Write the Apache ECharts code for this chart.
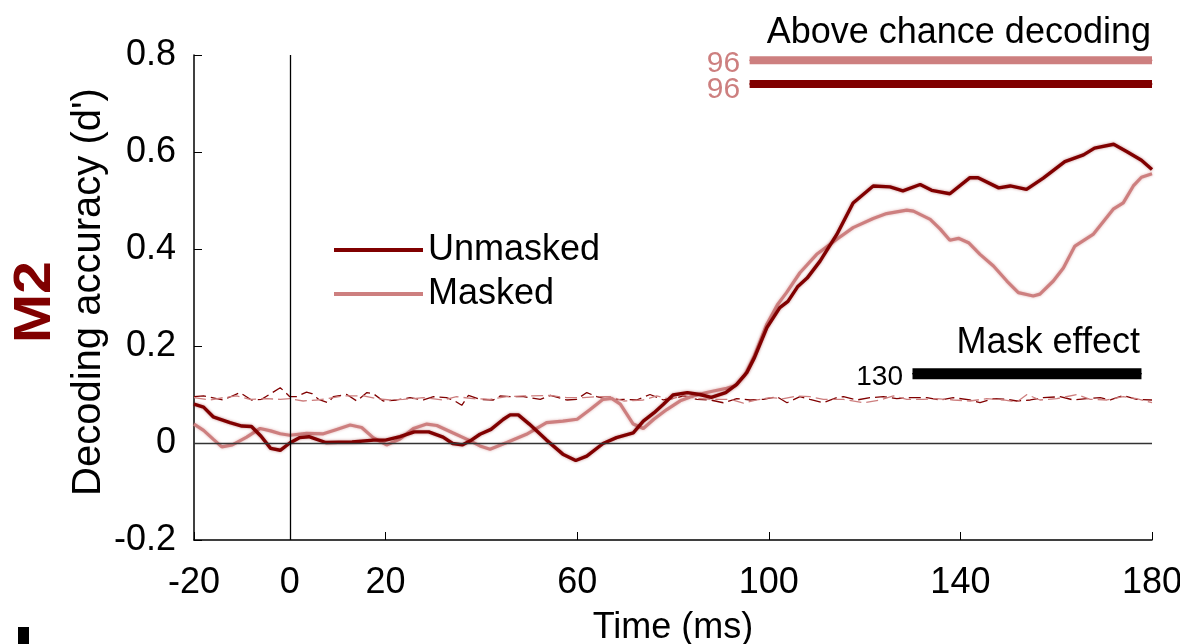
<!DOCTYPE html>
<html>
<head>
<meta charset="utf-8">
<script src="https://cdn.jsdelivr.net/npm/echarts@6/dist/echarts.min.js"></script>
<style>
  html, body { margin: 0; padding: 0; background: #fff; overflow: hidden; }
  #main { width: 1180px; height: 644px; }
</style>
</head>
<body>
<div id="main"></div>
<script>
// decoding accuracy, unmasked
var unmaskedTime = [-20,-18,-16,-12.5,-10,-8,-6,-4,-2,0,2,4,7.5,13,17.5,20,23,26,29,32,34,36,37.6,39.7,42,44.6,46,47.7,50,53.6,57,59.7,62,65.4,68.2,71.7,73.8,76,78,80,83,85.6,88,91,93.3,95.4,97,99.6,102.3,104,106,108,110.7,114.2,117.6,121.8,125.3,128,131.6,134,137.8,142,143.7,148,150.4,153.8,157.3,161.8,165.7,168,172,174.7,177.8,180];
var unmaskedVal = [0.080,0.074,0.054,0.042,0.035,0.034,0.014,-0.011,-0.015,0.000,0.011,0.013,0.001,0.002,0.006,0.006,0.013,0.023,0.023,0.012,-0.001,-0.004,0.004,0.018,0.028,0.049,0.058,0.058,0.039,0.006,-0.023,-0.036,-0.027,-0.001,0.011,0.021,0.045,0.062,0.080,0.099,0.104,0.100,0.094,0.104,0.121,0.145,0.176,0.238,0.279,0.292,0.322,0.340,0.375,0.430,0.495,0.530,0.528,0.520,0.533,0.521,0.514,0.547,0.547,0.526,0.530,0.523,0.546,0.580,0.594,0.608,0.616,0.601,0.583,0.564];

// decoding accuracy, masked
var maskedTime = [-20,-18,-16,-14.2,-12,-9,-6.2,-4,-2,0,3.5,7,9.8,12.6,15,17.4,20.2,23,25.8,28.6,30.7,34,36.9,39.7,41.8,45.3,49.4,53.6,57,60,62.7,65.4,67.2,69,71.7,73.8,76,78.7,81.5,84.2,87,91.2,93,95,97,99.6,101.8,103.7,106.5,110,114.2,117.6,121.8,124.6,128.8,130.2,133.7,135.8,137.8,139.6,141.7,144.1,146.9,149.7,152.1,155.2,156.6,159.4,161.5,163.9,167.7,170.2,171.9,174,176.1,177.8,180];
var maskedVal = [0.039,0.026,0.008,-0.008,-0.004,0.012,0.030,0.025,0.019,0.016,0.020,0.019,0.028,0.037,0.032,0.011,-0.004,0.008,0.030,0.039,0.036,0.021,0.008,-0.006,-0.013,0.001,0.018,0.042,0.045,0.049,0.069,0.090,0.092,0.080,0.039,0.030,0.049,0.069,0.087,0.097,0.104,0.113,0.118,0.140,0.180,0.245,0.285,0.310,0.351,0.389,0.420,0.444,0.463,0.473,0.480,0.478,0.461,0.441,0.418,0.422,0.413,0.389,0.365,0.334,0.310,0.303,0.307,0.334,0.361,0.406,0.430,0.461,0.482,0.495,0.530,0.548,0.555];

// chance level (shuffled labels)
var chanceDarkTime = [-20,-18,-13.9,-10.4,-8,-5.9,-2,-1,0,1.4,3.5,4.6,6,8,9.1,11.9,14,16.1,17.4,19.5,22.3,25.1,27.9,30,32.7,34.1,35.9,37.3,39.7,42.5,43.9,46,48.8,52.3,54.4,57.8,59.9,62,64.1,66.9,69.7,72.4,75.2,78,80.8,82.2,85,87.8,90.5,93.3,96.1,98.9,101.7,103.8,106.5,108.6,111.4,114.2,115.6,118.4,121.2,123.9,126.7,129.5,133,135.8,138.5,142,144.1,146.9,149.7,151.8,154.6,157.3,160.8,163.6,166.4,169.2,171.3,174,176.8,180];
var chanceDarkVal = [0.0955,0.097,0.0887,0.104,0.0887,0.090,0.114,0.105,0.0955,0.0955,0.105,0.102,0.090,0.083,0.0955,0.100,0.0866,0.104,0.102,0.0866,0.0887,0.0935,0.0887,0.0955,0.0935,0.0887,0.0777,0.098,0.090,0.0887,0.097,0.0955,0.0955,0.090,0.098,0.0887,0.090,0.104,0.0955,0.0887,0.090,0.0887,0.100,0.0887,0.0935,0.097,0.090,0.0887,0.083,0.0914,0.0887,0.090,0.0955,0.083,0.0955,0.090,0.083,0.0935,0.0955,0.0887,0.0935,0.0955,0.0914,0.0935,0.0935,0.0887,0.0935,0.0887,0.083,0.0914,0.090,0.0866,0.0887,0.0935,0.0955,0.0887,0.0914,0.0935,0.0887,0.098,0.090,0.0887];
var chanceLightTime = [-20,-16.7,-13.9,-11.1,-8.3,-4.8,-2,0,2.8,5.6,7.7,11.2,15.4,18.1,20.9,23.7,27.9,32,34.8,38.3,41.8,45.3,48.8,54.4,57.8,61.3,64.1,66.9,69.7,73.8,76.6,79.4,82.2,85,89.1,91.9,94.7,97.5,100.3,103.1,105.8,108.6,111.4,115.6,119.8,123.2,126,128.8,132.3,135.1,138.5,142,145.5,149,151.8,153.9,156.6,160.1,164.3,167.1,170.6,174,176.8,180];
var chanceLightVal = [0.0935,0.0887,0.0935,0.097,0.090,0.0914,0.090,0.0914,0.0866,0.0887,0.0914,0.097,0.097,0.0914,0.0887,0.090,0.0935,0.0887,0.0955,0.0914,0.090,0.0955,0.097,0.098,0.0935,0.0935,0.0955,0.0955,0.0866,0.0887,0.097,0.090,0.098,0.0914,0.090,0.090,0.082,0.0887,0.0935,0.0914,0.097,0.0955,0.090,0.090,0.083,0.0887,0.097,0.090,0.090,0.0914,0.0887,0.0866,0.0914,0.0887,0.0846,0.100,0.0887,0.0914,0.100,0.090,0.0887,0.0955,0.0914,0.083];

// significance bars: [start, end] in ms, plus the height they are drawn at
var aboveMaskedSpan = [96, 180];
var aboveUnmaskedSpan = [96, 180];
var maskEffectSpan = [130, 177.8];
var aboveMaskedLevel = 0.789;
var aboveUnmaskedLevel = 0.740;
var maskEffectLevel = 0.143;

var xTicks = [-20, 0, 20, 60, 100, 140, 180];

var DARK = '#800000';
var LIGHT = '#CD7F7F';
var FONT = '"Liberation Sans", Arial, Helvetica, sans-serif';

function zip(t, v) {
    var out = [];
    for (var i = 0; i < t.length; i++) out.push([t[i], v[i]]);
    return out;
}

// bar with a label at its start point
function spanData(span, level, labelColor, labelSize, offset) {
    return [{
        value: [span[0], level],
        label: {
            show: true,
            position: 'left',
            distance: 9,
            offset: offset,
            formatter: String(span[0]),
            color: labelColor,
            fontSize: labelSize,
            fontFamily: FONT
        }
    }, [span[1], level]];
}

var chart = echarts.init(document.getElementById('main'), null, { renderer: 'canvas' });

var option = {
    animation: false,
    backgroundColor: '#fff',
    grid: { left: 194, right: 28, top: 55, bottom: 104, containLabel: false, outerBoundsMode: 'none' },
    legend: {
        data: ['Unmasked', 'Masked'],
        orient: 'vertical',
        left: 329,
        top: 227,
        icon: 'rect',
        itemWidth: 89,
        itemHeight: 4,
        itemGap: 8,
        itemStyle: { borderWidth: 0 },
        textStyle: { fontSize: 36, fontFamily: FONT, color: '#000', lineHeight: 36 }
    },
    xAxis: {
        type: 'value',
        min: -20,
        max: 180,
        name: 'Time (ms)',
        nameLocation: 'middle',
        nameGap: 70,
        nameTextStyle: { fontSize: 36, fontFamily: FONT, color: '#000' },
        axisLine: { show: true, onZero: false, lineStyle: { color: '#000', width: 1.5 } },
        axisTick: { show: true, inside: true, length: 8, customValues: xTicks, lineStyle: { color: '#000', width: 1 } },
        axisLabel: { customValues: xTicks, fontSize: 36, fontFamily: FONT, color: '#000', margin: 25 },
        splitLine: { show: false }
    },
    yAxis: {
        type: 'value',
        min: -0.2,
        max: 0.8,
        interval: 0.2,
        axisLine: { show: true, onZero: false, lineStyle: { color: '#000', width: 1.5 } },
        axisTick: { show: true, inside: true, length: 8, lineStyle: { color: '#000', width: 1 } },
        axisLabel: {
            fontSize: 36, fontFamily: FONT, color: '#000', margin: 18,
            padding: [8, 0, 0, 0],
            formatter: function (v) { return String(Math.round(v * 10) / 10); }
        },
        splitLine: { show: false }
    },
    graphic: [{
        type: 'text',
        left: 10,
        top: 261,
        rotation: Math.PI / 2,
        scaleX: 1.14,
        style: { text: 'M2', fill: DARK, font: 'bold 52px ' + FONT }
    }, {
        // y axis title
        type: 'text',
        x: 89,
        y: 292,
        rotation: Math.PI / 2,
        style: {
            text: "Decoding accuracy (d')", fill: '#000', font: '40px ' + FONT,
            align: 'center', verticalAlign: 'middle'
        }
    }, {
        type: 'text',
        right: 29,
        top: 15,
        style: { text: 'Above chance decoding', fill: '#000', font: '36px ' + FONT }
    }, {
        type: 'text',
        right: 40,
        top: 325,
        style: { text: 'Mask effect', fill: '#000', font: '36px ' + FONT }
    }, {
        type: 'rect',
        left: 18,
        top: 627,
        shape: { width: 11, height: 17 },
        style: { fill: '#000' }
    }],
    series: [{
        name: 'chance unmasked',
        type: 'line',
        data: zip(chanceDarkTime, chanceDarkVal),
        showSymbol: false,
        silent: true,
        lineStyle: { color: DARK, width: 1.3, type: [12, 5] },
        z: 2
    }, {
        name: 'chance masked',
        type: 'line',
        data: zip(chanceLightTime, chanceLightVal),
        showSymbol: false,
        silent: true,
        lineStyle: { color: LIGHT, width: 1.3, type: [12, 5] },
        z: 2
    }, {
        name: 'Masked',
        type: 'line',
        data: zip(maskedTime, maskedVal),
        showSymbol: false,
        color: LIGHT,
        lineStyle: { color: LIGHT, width: 3.2, shadowBlur: 3, shadowColor: 'rgba(205,127,127,0.6)' },
        markLine: {
            silent: true,
            symbol: 'none',
            label: { show: false },
            data: [
                { yAxis: 0, lineStyle: { color: '#333', width: 1.3, type: 'solid' } },
                { xAxis: 0, lineStyle: { color: '#000', width: 1.3, type: 'solid' } }
            ]
        },
        z: 3
    }, {
        name: 'Unmasked',
        type: 'line',
        data: zip(unmaskedTime, unmaskedVal),
        showSymbol: false,
        color: DARK,
        lineStyle: { color: DARK, width: 3.4, shadowBlur: 3, shadowColor: 'rgba(128,0,0,0.45)' },
        z: 4
    }, {
        name: 'above masked',
        type: 'line',
        data: spanData(aboveMaskedSpan, aboveMaskedLevel, LIGHT, 30, [0, 3]),
        symbol: 'rect',
        symbolSize: 1,
        itemStyle: { color: LIGHT },
        lineStyle: { color: LIGHT, width: 8, cap: 'butt' },
        silent: true,
        z: 5
    }, {
        name: 'above unmasked',
        type: 'line',
        data: spanData(aboveUnmaskedSpan, aboveUnmaskedLevel, LIGHT, 30, [0, 6]),
        symbol: 'rect',
        symbolSize: 1,
        itemStyle: { color: DARK },
        lineStyle: { color: DARK, width: 8, cap: 'butt' },
        silent: true,
        z: 5
    }, {
        name: 'mask effect',
        type: 'line',
        data: spanData(maskEffectSpan, maskEffectLevel, '#000', 28, [0, 4]),
        symbol: 'rect',
        symbolSize: 1,
        itemStyle: { color: '#000' },
        lineStyle: { color: '#000', width: 11, cap: 'butt' },
        silent: true,
        z: 5
    }]
};

chart.setOption(option);
</script>
</body>
</html>
